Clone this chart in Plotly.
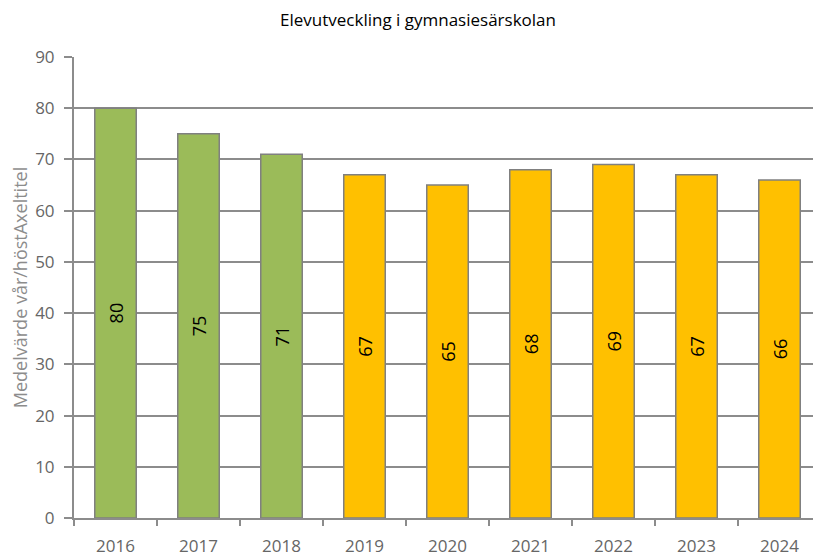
import plotly.graph_objects as go

years = ["2016", "2017", "2018", "2019", "2020", "2021", "2022", "2023", "2024"]
values = [80, 75, 71, 67, 65, 68, 69, 67, 66]
bar_colors = ["#9BBB59", "#9BBB59", "#9BBB59", "#FFC000", "#FFC000", "#FFC000", "#FFC000", "#FFC000", "#FFC000"]
y_ticks = [0, 10, 20, 30, 40, 50, 60, 70, 80, 90]

FONT = "Open Sans, Calibri, sans-serif"
W, H = 813, 549  # page body has 8px margin

fig = go.Figure()
fig.add_trace(go.Bar(
    x=years, y=values,
    marker=dict(color=bar_colors, line=dict(color="#808080", width=1.5)),
    width=0.5,
    text=[str(v) for v in values],
    textposition="inside",
    insidetextanchor="middle",
    textangle=-90,
    textfont=dict(family=FONT, size=18, color="black"),
    hoverinfo="x+y",
))

fig.update_layout(
    width=W, height=H,
    margin=dict(l=66, r=0, t=49, b=39),
    paper_bgcolor="white", plot_bgcolor="white",
    showlegend=False,
    title=dict(text="Elevutveckling i gymnasiesärskolan", x=410 / W, xref="container", xanchor="center",
               y=1 - 12 / H, yref="container", yanchor="middle",
               font=dict(family=FONT, size=17, color="black")),
    uniformtext=dict(mode=False),
)
fig.update_yaxes(
    range=[0, 90], tickvals=y_ticks, ticktext=[str(t) for t in y_ticks],
    automargin=False,
    showgrid=True, gridcolor="#8c8c8c", gridwidth=2,
    showline=True, linecolor="#8c8c8c", linewidth=2,
    ticks="outside", ticklen=8, tickcolor="#8c8c8c", tickwidth=2,
    ticklabelstandoff=6,
    tickfont=dict(family=FONT, size=17, color="#666666"),
    title=dict(text="Medelvärde vår/höstAxeltitel", standoff=4,
               font=dict(family=FONT, size=18, color="#8c8c8c")),
    zeroline=False,
)
fig.update_xaxes(
    type="category",
    automargin=False,
    showline=True, linecolor="#8c8c8c", linewidth=2,
    ticks="outside", tickson="boundaries", ticklen=6, tickcolor="#8c8c8c", tickwidth=2,
    ticklabelstandoff=12,
    tickfont=dict(family=FONT, size=17, color="#666666"),
    showgrid=False,
)

fig.write_html("out.html")
